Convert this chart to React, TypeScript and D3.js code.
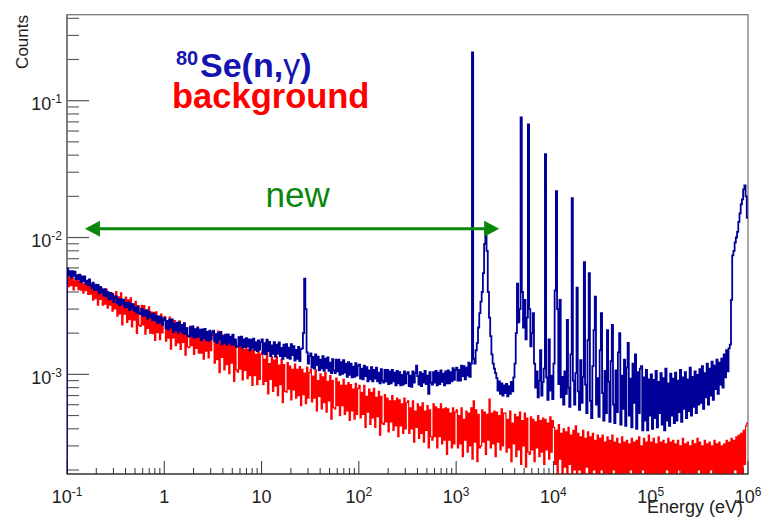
import React from 'react';
import * as d3 from 'd3';

// ---- data (counts in units of 1e-4), histogram bins of 1/80 decade from 0.1 eV to 1 MeV ----
const COUNT_UNIT = 1e-4;
const E_MIN = 0.1;
const E_MAX = 1e6;
const BINS_PER_DECADE = 80;

const seCounts = [
  59.4, 52.7, 56.7, 51.2, 56.7, 52.4, 56.2, 49.4, 53.0, 49.4, 53.6, 47.0, 52.0, 48.0, 51.9, 46.1, 48.5, 44.7, 49.4, 44.6,
  42.8, 46.7, 41.4, 45.2, 41.3, 45.1, 39.1, 43.6, 39.8, 41.7, 37.6, 41.9, 37.1, 40.0, 35.3, 39.4, 35.5, 38.7, 33.8, 36.6,
  37.1, 33.0, 35.4, 32.1, 35.5, 32.8, 35.2, 30.9, 33.3, 31.0, 33.6, 29.5, 32.7, 30.2, 32.6, 29.0, 30.6, 28.2, 31.3, 28.3,
  27.6, 30.1, 26.8, 29.3, 26.9, 29.4, 25.6, 28.6, 26.2, 27.5, 24.9, 27.8, 24.7, 26.7, 23.7, 26.5, 24.0, 26.2, 23.0, 24.9,
  25.8, 21.7, 24.6, 21.2, 25.1, 22.1, 25.2, 20.4, 23.5, 21.1, 23.9, 20.2, 24.0, 20.8, 23.0, 19.9, 23.7, 19.8, 21.8, 19.1,
  18.9, 22.1, 19.2, 22.4, 18.5, 21.4, 18.7, 21.8, 18.9, 21.2, 17.8, 21.3, 18.4, 21.5, 17.8, 20.4, 17.6, 20.9, 18.0, 20.3,
  20.7, 17.4, 19.7, 17.0, 20.1, 17.9, 20.4, 16.6, 19.0, 17.1, 19.5, 16.5, 19.6, 17.0, 18.9, 16.4, 19.5, 16.4, 18.0, 15.9,
  16.0, 18.7, 16.3, 18.9, 15.6, 18.0, 15.8, 18.4, 16.0, 18.0, 15.0, 17.9, 15.6, 18.2, 15.1, 17.2, 14.8, 17.7, 15.2, 17.2,
  18.0, 14.2, 16.9, 14.0, 17.9, 14.8, 17.3, 13.6, 16.3, 14.1, 17.2, 13.5, 16.5, 14.1, 17.1, 13.6, 15.6, 13.0, 16.5, 13.6,
  16.6, 13.2, 15.7, 13.0, 16.6, 13.8, 16.1, 12.6, 15.1, 13.0, 15.9, 12.5, 15.3, 15.5, 20, 50, 30, 14.5, 12.0, 13.6,
  14.2, 11.2, 13.4, 11.0, 14.0, 11.7, 13.5, 10.7, 12.8, 11.0, 13.6, 10.6, 13.0, 11.1, 13.3, 10.6, 12.2, 10.2, 12.9, 10.7,
  10.2, 12.8, 10.5, 12.8, 9.9, 12.3, 10.1, 12.7, 10.3, 12.0, 9.6, 12.3, 9.9, 12.0, 9.5, 11.4, 9.6, 12.1, 9.8, 11.6,
  11.8, 9.3, 11.0, 9.2, 11.6, 9.7, 11.3, 8.9, 10.7, 9.2, 11.3, 8.9, 10.8, 9.3, 11.2, 8.9, 10.3, 8.6, 10.9, 9.0,
  8.7, 10.8, 8.9, 10.8, 8.5, 10.5, 8.6, 10.8, 8.9, 10.3, 8.3, 10.6, 8.6, 10.4, 8.3, 9.9, 8.4, 10.5, 8.6, 10.1,
  10.4, 8.2, 9.8, 8.1, 10.5, 8.7, 10.2, 11.6, 9.7, 8.4, 10.4, 8.2, 10.1, 8.7, 10.6, 8.5, 9.8, 7.2, 10.4, 8.7,
  8.4, 10.4, 8.7, 10.6, 8.3, 10.3, 8.5, 10.7, 8.8, 10.1, 8.3, 10.5, 8.6, 10.7, 8.6, 10.4, 8.9, 11.1, 9.1, 10.8,
  11.2, 9.0, 10.8, 9.0, 11.6, 9.7, 11.5, 9.2, 11.2, 9.8, 12.2, 9.6, 12.0, 2250, 13, 12, 15, 17, 22, 28,
  34, 40, 55, 90, 117, 80, 40, 26, 19, 14, 12, 11, 10.2, 9.4, 7.6, 8.9, 7.2, 8.6, 7.0, 8.3,
  7.3, 8.5, 6.9, 8.2, 7.2, 8.8, 7.5, 9.5, 12, 20, 46, 24, 30, 755, 40, 22, 35, 18, 26, 671,
  30, 16, 20, 28, 12, 8.0, 10.5, 6.8, 9.0, 15, 7.0, 8.8, 11, 406, 9.5, 6.5, 18, 7.6, 9.8, 6.6,
  12, 41, 218, 30, 8.5, 35, 6.8, 9.6, 6.0, 10.5, 7.2, 25, 8.0, 5.8, 14, 194, 9.0, 6.0, 10.2, 43,
  7.5, 5.5, 12.7, 6.2, 9.6, 66, 8.4, 5.2, 17.8, 55, 6.4, 4.8, 11.5, 21, 37, 6.0, 9.4, 4.9, 15, 28,
  7.3, 4.6, 10.6, 5.2, 21, 8.8, 4.5, 12.5, 23, 6.0, 4.4, 10.7, 5.3, 14.5, 20, 4.3, 9.8, 5.6, 12.8, 4.2,
  11.2, 17, 5.0, 9.3, 4.1, 12.0, 6.2, 14, 4.0, 10.4, 5.2, 11.0, 11.5, 3.9, 9.5, 4.6, 10.8, 3.9, 9.2, 5.0,
  10.0, 4.0, 9.1, 4.8, 10.6, 4.1, 8.8, 5.2, 10.2, 4.3, 9.4, 3.9, 11.0, 4.6, 8.6, 4.2, 10.1, 5.0, 9.3, 4.4,
  10.3, 4.6, 9.0, 5.3, 10.8, 4.5, 9.5, 5.6, 10.4, 4.8, 9.2, 5.4, 11.2, 5.0, 9.6, 5.8, 10.5, 5.2, 9.9, 6.0,
  10.9, 6.2, 11.5, 5.6, 10.2, 6.8, 12.0, 6.0, 11.0, 7.0, 12.4, 6.5, 11.6, 7.8, 12.8, 7.2, 12.2, 8.4, 13.0, 8.0,
  14.0, 9.5, 15.0, 10.5, 15.5, 16.5, 35, 74, 80, 92, 100, 110, 130, 150, 175, 190, 225, 240, 200, 140,
];

const bgCounts = [
  52.9, 43.7, 50.7, 44.5, 51.8, 41.5, 48.2, 44.1, 49.2, 41.6, 48.0, 41.3, 48.6, 39.3, 45.6, 40.9, 46.5, 38.4, 44.4, 38.6,
  46.2, 34.8, 43.4, 35.8, 45.0, 32.1, 40.7, 35.3, 42.7, 32.0, 41.1, 32.6, 41.8, 30.5, 38.2, 32.0, 39.5, 29.0, 37.4, 30.1,
  40.2, 26.6, 36.8, 27.7, 39.4, 23.0, 34.2, 27.6, 36.7, 24.0, 35.1, 25.1, 36.2, 22.2, 32.2, 24.9, 34.2, 19.9, 31.8, 22.8,
  22.4, 31.9, 23.0, 31.8, 19.7, 28.6, 21.7, 31.1, 20.0, 28.5, 19.8, 28.4, 17.7, 28.6, 20.2, 26.3, 17.9, 27.6, 20.1, 25.9,
  26.4, 17.5, 24.3, 18.4, 26.2, 15.3, 22.9, 18.5, 24.7, 16.2, 23.7, 17.0, 24.6, 15.2, 22.1, 17.1, 23.6, 13.8, 22.0, 15.9,
  15.7, 22.4, 16.2, 22.4, 14.0, 20.4, 15.5, 22.2, 14.3, 20.5, 14.3, 20.6, 12.9, 20.8, 14.8, 19.4, 13.2, 20.5, 14.9, 19.3,
  21.0, 12.1, 18.6, 12.8, 20.7, 10.3, 17.3, 13.3, 19.4, 10.8, 18.2, 11.8, 19.5, 10.1, 16.9, 12.1, 18.5, 8.9, 16.9, 10.8,
  10.4, 17.3, 10.9, 16.2, 9.1, 15.2, 10.7, 16.6, 9.3, 15.1, 9.8, 15.8, 8.3, 15.1, 9.8, 14.0, 8.4, 15.5, 9.2, 14.0,
  14.6, 8.4, 12.9, 8.9, 14.4, 7.2, 12.0, 9.2, 13.4, 7.5, 12.7, 8.2, 13.5, 7.0, 11.7, 8.4, 12.8, 6.2, 11.8, 7.5,
  7.4, 12.2, 7.8, 11.5, 6.5, 10.9, 7.7, 11.9, 6.7, 10.9, 7.0, 11.4, 5.9, 10.9, 7.1, 10.2, 6.1, 11.3, 6.7, 10.3,
  10.9, 6.3, 9.7, 6.7, 10.8, 5.4, 9.0, 6.9, 10.1, 5.6, 9.6, 6.2, 10.3, 5.3, 8.9, 6.4, 9.8, 4.7, 9.0, 5.7,
  5.6, 9.4, 5.9, 8.8, 5.0, 8.3, 5.9, 9.2, 5.1, 8.3, 5.4, 8.7, 4.6, 8.4, 5.4, 7.8, 4.7, 8.6, 5.1, 7.9,
  8.3, 4.8, 7.4, 5.1, 8.3, 4.1, 6.9, 5.3, 7.8, 4.3, 7.4, 4.8, 7.9, 4.1, 6.8, 4.9, 7.5, 3.6, 6.9, 4.4,
  4.3, 7.1, 4.5, 6.7, 3.8, 6.4, 4.5, 7.0, 3.9, 6.4, 4.2, 6.7, 3.5, 6.5, 4.2, 6.1, 3.7, 6.7, 4.0, 6.2,
  6.4, 3.7, 5.7, 4.0, 6.4, 3.2, 5.4, 4.1, 6.1, 3.4, 5.8, 3.7, 6.2, 3.2, 5.4, 3.9, 5.9, 2.9, 5.5, 3.5,
  3.3, 6.1, 3.5, 5.8, 2.9, 5.6, 3.5, 6.1, 3.1, 5.6, 3.3, 5.7, 2.6, 5.6, 3.3, 5.2, 2.9, 5.7, 3.1, 5.3,
  5.5, 2.9, 5.0, 3.1, 5.7, 2.5, 4.7, 3.3, 5.4, 2.7, 5.2, 3.0, 5.7, 2.4, 6.4, 3.2, 5.5, 2.3, 5.1, 2.9,
  3.0, 5.5, 3.2, 5.3, 2.6, 5.1, 3.3, 6.6, 2.9, 5.2, 3.1, 5.4, 2.5, 5.3, 3.2, 5.0, 2.8, 5.6, 3.0, 5.2,
  5.2, 2.7, 4.7, 2.9, 5.4, 2.3, 4.4, 3.1, 5.1, 2.5, 4.9, 2.8, 5.3, 2.2, 4.6, 3.0, 5.2, 2.1, 4.8, 2.7,
  2.6, 4.9, 2.8, 4.7, 2.3, 4.5, 2.9, 5.0, 2.5, 4.6, 2.7, 4.8, 2.2, 4.7, 2.8, 4.4, 2.4, 4.9, 2.7, 4.6,
  4.1, 2.2, 3.9, 1.5, 4.3, 2.4, 3.7, 1.5, 4.0, 2.1, 3.8, 1.5, 4.1, 2.2, 3.6, 1.5, 3.9, 2.0, 4.2, 1.5,
  3.7, 2.0, 3.5, 1.5, 3.9, 1.5, 3.4, 2.1, 3.8, 1.5, 3.5, 1.5, 3.7, 2.0, 3.3, 1.5, 3.6, 1.5, 3.4, 2.0,
  3.6, 1.5, 3.2, 1.9, 3.5, 1.5, 3.3, 1.5, 3.6, 2.0, 3.2, 1.5, 3.4, 1.9, 3.1, 1.5, 3.5, 1.5, 3.2, 1.9,
  3.3, 1.5, 3.1, 2.0, 3.4, 1.5, 3.2, 1.5, 3.3, 1.9, 3.5, 1.5, 3.0, 2.0, 3.4, 1.5, 3.2, 1.5, 3.6, 1.9,
  3.2, 1.5, 3.4, 1.9, 3.1, 1.5, 3.5, 1.5, 3.2, 1.9, 3.3, 1.5, 3.1, 2.0, 3.4, 1.5, 3.2, 1.5, 3.3, 1.9,
  3.1, 1.5, 3.3, 2.0, 3.0, 1.5, 3.4, 1.5, 3.1, 1.9, 3.2, 1.5, 3.0, 1.9, 3.3, 1.5, 3.1, 1.5, 3.4, 2.0,
  3.2, 1.5, 3.0, 1.9, 3.3, 1.5, 3.1, 1.5, 3.2, 2.0, 3.0, 1.5, 3.3, 1.9, 3.1, 1.5, 3.2, 1.5, 3.0, 1.9,
  3.1, 1.5, 3.3, 1.9, 3.2, 1.5, 3.4, 1.5, 3.3, 2.0, 3.5, 1.5, 3.6, 1.9, 3.7, 1.5, 3.9, 2.2, 4.2, 4.4,
];

const xTickExponents = [-1, 0, 1, 2, 3, 4, 5, 6];
const yTickExponents = [-3, -2, -1];
const Y_MIN = 1.87e-4;
const Y_MAX = 0.425;

const legendSe = { sup: '80', main: 'Se(n,', greek: 'γ', close: ')' };
const legendBg = 'background';
const newLabel = 'new';
const arrowStartE = 0.153;
const arrowEndE = 2770;
const arrowCounts = 0.0116;
const newLabelE = 23.5;
const newLabelCounts = 0.0166;
const xTitle = 'Energy (eV)';
const yTitle = 'Counts';

const W = 769;
const H = 520;
const PL = 67, PR = 748, PT = 14.7, PB = 474;
const FONT = "'Liberation Sans', Arial, Helvetica, sans-serif";
const BLUE = '#000099';
const BLUE_TXT = '#1414b0';
const RED = '#ff0000';
const GREEN = '#0b870b';

function supLabel(exp: number) {
  if (exp === 0) return { base: '1', sup: '' };
  if (exp === 1) return { base: '10', sup: '' };
  return { base: '10', sup: String(exp) };
}

export default function App() {
  const x = d3.scaleLog().domain([E_MIN, E_MAX]).range([PL, PR]);
  const y = d3.scaleLog().domain([Y_MIN, Y_MAX]).range([PB, PT]);

  const edgeE = (i: number) => E_MIN * Math.pow(10, i / BINS_PER_DECADE);

  const histPath = (vals: number[]) => {
    const pts: [number, number][] = [[x(edgeE(0)), PB + 5]];
    vals.forEach((v, i) => {
      const yy = y(v * COUNT_UNIT);
      pts.push([x(edgeE(i)), yy], [x(edgeE(i + 1)), yy]);
    });
    return d3.line()(pts) || '';
  };

  const yMinor: number[] = [];
  for (let e = -4; e <= -1; e++) {
    for (let m = 2; m <= 9; m++) {
      const v = m * Math.pow(10, e);
      if (v >= Y_MIN && v <= Y_MAX) yMinor.push(v);
    }
  }
  const xMinor: number[] = [];
  for (let e = -1; e <= 5; e++) {
    for (let m = 2; m <= 9; m++) xMinor.push(m * Math.pow(10, e));
  }

  const ax = x(arrowStartE), bx = x(arrowEndE), ay = y(arrowCounts);
  const head = 15, hw = 8;

  return (
    <svg width={W} height={H} style={{ position: 'absolute', left: 0, top: 0, background: '#fff' }} fontFamily={FONT}>
      <defs>
        <clipPath id="plotClip">
          <rect x={PL} y={PT} width={PR - PL} height={PB - PT} />
        </clipPath>
      </defs>
      <rect x={0} y={0} width={W} height={H} fill="#fff" />
      {/* frame */}
      <rect x={PL} y={PT} width={PR - PL} height={PB - PT} fill="none" stroke="#7a7a7a" strokeWidth={1.3} />
      {/* y ticks */}
      {yTickExponents.map((e) => (
        <line key={'ym' + e} x1={PL} x2={PL + 22} y1={y(Math.pow(10, e))} y2={y(Math.pow(10, e))} stroke="#555" strokeWidth={1.2} />
      ))}
      {yMinor.map((v, i) => (
        <line key={'yn' + i} x1={PL} x2={PL + 12} y1={y(v)} y2={y(v)} stroke="#555" strokeWidth={1.1} />
      ))}
      {/* x ticks */}
      {xTickExponents.map((e) => (
        <line key={'xm' + e} x1={x(Math.pow(10, e))} x2={x(Math.pow(10, e))} y1={PB} y2={PB - 13} stroke="#333" strokeWidth={1} />
      ))}
      {xMinor.map((v, i) => (
        <line key={'xn' + i} x1={x(v)} x2={x(v)} y1={PB} y2={PB - 6} stroke="#333" strokeWidth={1} />
      ))}
      <line x1={PL} x2={PL} y1={PT} y2={PB} stroke="#666" strokeWidth={1.3} />
      {/* histograms */}
      <g clipPath="url(#plotClip)">
        <path d={histPath(bgCounts)} fill="none" stroke={RED} strokeWidth={1.2} />
        <path d={histPath(seCounts)} fill="none" stroke={BLUE} strokeWidth={1.8} />
      </g>
      <line x1={PL} x2={PR} y1={PB} y2={PB} stroke="#222" strokeWidth={1.2} />
      {/* x tick labels */}
      {xTickExponents.map((e) => {
        const l = supLabel(e);
        return (
          <text key={'xl' + e} x={x(Math.pow(10, e))} y={503} textAnchor="middle" fontSize={18} fill="#222">
            <tspan>{l.base}</tspan>
            {l.sup && <tspan fontSize={12} dy={-7}>{l.sup}</tspan>}
          </text>
        );
      })}
      {/* y tick labels */}
      {yTickExponents.map((e) => {
        const l = supLabel(e);
        return (
          <text key={'yl' + e} x={62} y={y(Math.pow(10, e)) + 9.5} textAnchor="end" fontSize={18} fill="#222">
            <tspan>{l.base}</tspan>
            <tspan fontSize={12} dy={-7}>{l.sup}</tspan>
          </text>
        );
      })}
      {/* axis titles */}
      <text x={743} y={513} textAnchor="end" fontSize={18} fill="#222">{xTitle}</text>
      <text transform="translate(28,15) rotate(-90)" textAnchor="end" fontSize={17} fill="#222">{yTitle}</text>
      {/* legend texts */}
      <text x={176} y={65} fontSize={20} fontWeight="bold" fill={BLUE_TXT}>{legendSe.sup}</text>
      <text x={200} y={77} fontSize={34} fontWeight="bold" fill={BLUE_TXT}>
        <tspan>{legendSe.main}</tspan>
        <tspan fontWeight="normal">{legendSe.greek}</tspan>
        <tspan>{legendSe.close}</tspan>
      </text>
      <text x={172} y={108} fontSize={34.5} fontWeight="bold" fill={RED}>{legendBg}</text>
      {/* new arrow */}
      <line x1={ax + head - 1} x2={bx - head + 1} y1={ay} y2={ay} stroke={GREEN} strokeWidth={3} />
      <polygon points={`${ax},${ay} ${ax + head},${ay - hw} ${ax + head},${ay + hw}`} fill={GREEN} />
      <polygon points={`${bx},${ay} ${bx - head},${ay - hw} ${bx - head},${ay + hw}`} fill={GREEN} />
      <text x={x(newLabelE)} y={y(newLabelCounts)} textAnchor="middle" fontSize={35} fill={GREEN}>{newLabel}</text>
    </svg>
  );
}
